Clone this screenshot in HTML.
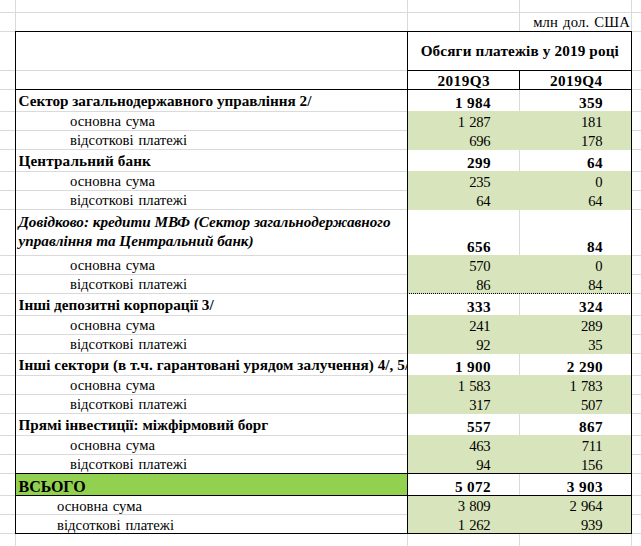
<!DOCTYPE html>
<html><head><meta charset="utf-8"><style>
html,body{margin:0;padding:0;background:#fff}
body{width:641px;height:546px;position:relative;overflow:hidden}
i{position:absolute;display:block}
div{position:absolute;white-space:nowrap;line-height:20px;height:20px;font-family:"Liberation Serif",serif;color:#000}
.n{font-size:14.67px;letter-spacing:0.05px;word-spacing:1px}
.nn{font-size:14.67px;letter-spacing:-0.3px;word-spacing:1.2px}
.nb{font-size:15.2px;font-weight:bold;letter-spacing:0.4px}
.b{font-size:15.2px;font-weight:bold}
</style></head><body>
<i style="left:0px;top:12px;width:641px;height:1px;background:#dadada"></i>
<i style="left:0px;top:31px;width:641px;height:1px;background:#dadada"></i>
<i style="left:0px;top:70px;width:641px;height:1px;background:#dadada"></i>
<i style="left:0px;top:89px;width:641px;height:1px;background:#dadada"></i>
<i style="left:0px;top:111px;width:641px;height:1px;background:#dadada"></i>
<i style="left:0px;top:130px;width:641px;height:1px;background:#dadada"></i>
<i style="left:0px;top:149px;width:641px;height:1px;background:#dadada"></i>
<i style="left:0px;top:171px;width:641px;height:1px;background:#dadada"></i>
<i style="left:0px;top:190px;width:641px;height:1px;background:#dadada"></i>
<i style="left:0px;top:209px;width:641px;height:1px;background:#dadada"></i>
<i style="left:0px;top:255px;width:641px;height:1px;background:#dadada"></i>
<i style="left:0px;top:274px;width:641px;height:1px;background:#dadada"></i>
<i style="left:0px;top:293px;width:641px;height:1px;background:#dadada"></i>
<i style="left:0px;top:315px;width:641px;height:1px;background:#dadada"></i>
<i style="left:0px;top:334px;width:641px;height:1px;background:#dadada"></i>
<i style="left:0px;top:353px;width:641px;height:1px;background:#dadada"></i>
<i style="left:0px;top:375px;width:641px;height:1px;background:#dadada"></i>
<i style="left:0px;top:394px;width:641px;height:1px;background:#dadada"></i>
<i style="left:0px;top:413px;width:641px;height:1px;background:#dadada"></i>
<i style="left:0px;top:435px;width:641px;height:1px;background:#dadada"></i>
<i style="left:0px;top:454px;width:641px;height:1px;background:#dadada"></i>
<i style="left:0px;top:473px;width:641px;height:1px;background:#dadada"></i>
<i style="left:0px;top:495px;width:641px;height:1px;background:#dadada"></i>
<i style="left:0px;top:514px;width:641px;height:1px;background:#dadada"></i>
<i style="left:0px;top:533px;width:641px;height:1px;background:#dadada"></i>
<i style="left:15px;top:0px;width:1px;height:546px;background:#dadada"></i>
<i style="left:407px;top:0px;width:1px;height:546px;background:#dadada"></i>
<i style="left:519px;top:0px;width:1px;height:546px;background:#dadada"></i>
<i style="left:631px;top:0px;width:1px;height:546px;background:#dadada"></i>
<i style="left:408px;top:111px;width:223px;height:39px;background:#d8e4bc"></i>
<i style="left:408px;top:171px;width:223px;height:39px;background:#d8e4bc"></i>
<i style="left:408px;top:255px;width:223px;height:39px;background:#d8e4bc"></i>
<i style="left:408px;top:315px;width:223px;height:39px;background:#d8e4bc"></i>
<i style="left:408px;top:375px;width:223px;height:39px;background:#d8e4bc"></i>
<i style="left:408px;top:435px;width:223px;height:39px;background:#d8e4bc"></i>
<i style="left:408px;top:495px;width:223px;height:39px;background:#d8e4bc"></i>
<i style="left:16px;top:474px;width:391px;height:21px;background:#92d050"></i>
<i style="left:408px;top:32px;width:223px;height:38px;background:#fff"></i>
<i style="left:15px;top:31px;width:617px;height:1px;background:#000"></i>
<i style="left:15px;top:31px;width:1px;height:503px;background:#000"></i>
<i style="left:631px;top:31px;width:1px;height:503px;background:#000"></i>
<i style="left:15px;top:533px;width:617px;height:1px;background:#000"></i>
<i style="left:407px;top:31px;width:1px;height:503px;background:#000"></i>
<i style="left:407px;top:70px;width:225px;height:1px;background:#000"></i>
<i style="left:519px;top:70px;width:1px;height:20px;background:#000"></i>
<i style="left:15px;top:89px;width:617px;height:1px;background:#000"></i>
<i style="left:15px;top:473px;width:617px;height:1px;background:#000"></i>
<i style="left:15px;top:495px;width:617px;height:1px;background:#000"></i>
<i style="left:409px;top:293px;width:222px;height:1px;background:repeating-linear-gradient(90deg,#000 0 1px,transparent 1px 2px)"></i>
<div class="n" style="left:330.00px;width:300px;text-align:right;top:12px;letter-spacing:0.2px">млн дол. США</div>
<div class="b" style="left:369.79999999999995px;width:300px;text-align:center;top:41px;letter-spacing:0.15px">Обсяги платежів у 2019 році</div>
<div class="b" style="left:313.8px;width:300px;text-align:center;top:71px;letter-spacing:0.5px">2019Q3</div>
<div class="b" style="left:426.29999999999995px;width:300px;text-align:center;top:71px;letter-spacing:0.5px">2019Q4</div>
<div class="b" style="left:18.5px;width:388.5px;overflow:hidden;top:91px;">Сектор загальнодержавного управління 2/</div>
<div class="nb" style="left:191.10px;width:300px;text-align:right;top:93px;">1 984</div>
<div class="nb" style="left:302.90px;width:300px;text-align:right;top:93px;">359</div>
<div class="n" style="left:70px;top:111px;">основна сума</div>
<div class="nn" style="left:190.40px;width:300px;text-align:right;top:112px;">1 287</div>
<div class="nn" style="left:302.20px;width:300px;text-align:right;top:112px;">181</div>
<div class="n" style="left:70px;top:130px;">відсоткові платежі</div>
<div class="nn" style="left:190.40px;width:300px;text-align:right;top:131px;">696</div>
<div class="nn" style="left:302.20px;width:300px;text-align:right;top:131px;">178</div>
<div class="b" style="left:18.5px;width:388.5px;overflow:hidden;top:151px;letter-spacing:0.13px">Центральний банк</div>
<div class="nb" style="left:191.10px;width:300px;text-align:right;top:153px;">299</div>
<div class="nb" style="left:302.90px;width:300px;text-align:right;top:153px;">64</div>
<div class="n" style="left:70px;top:171px;">основна сума</div>
<div class="nn" style="left:190.40px;width:300px;text-align:right;top:172px;">235</div>
<div class="nn" style="left:302.20px;width:300px;text-align:right;top:172px;">0</div>
<div class="n" style="left:70px;top:190px;">відсоткові платежі</div>
<div class="nn" style="left:190.40px;width:300px;text-align:right;top:191px;">64</div>
<div class="nn" style="left:302.20px;width:300px;text-align:right;top:191px;">64</div>
<div class="b" style="left:18.5px;width:388.5px;overflow:hidden;top:295px;">Інші депозитні корпорації 3/</div>
<div class="nb" style="left:191.10px;width:300px;text-align:right;top:297px;">333</div>
<div class="nb" style="left:302.90px;width:300px;text-align:right;top:297px;">324</div>
<div class="n" style="left:70px;top:315px;">основна сума</div>
<div class="nn" style="left:190.40px;width:300px;text-align:right;top:316px;">241</div>
<div class="nn" style="left:302.20px;width:300px;text-align:right;top:316px;">289</div>
<div class="n" style="left:70px;top:334px;">відсоткові платежі</div>
<div class="nn" style="left:190.40px;width:300px;text-align:right;top:335px;">92</div>
<div class="nn" style="left:302.20px;width:300px;text-align:right;top:335px;">35</div>
<div class="b" style="left:18.5px;width:388.5px;overflow:hidden;top:355px;letter-spacing:0.05px">Інші сектори (в т.ч. гарантовані урядом залучення) 4/, 5/</div>
<div class="nb" style="left:191.10px;width:300px;text-align:right;top:357px;">1 900</div>
<div class="nb" style="left:302.90px;width:300px;text-align:right;top:357px;">2 290</div>
<div class="n" style="left:70px;top:375px;">основна сума</div>
<div class="nn" style="left:190.40px;width:300px;text-align:right;top:376px;">1 583</div>
<div class="nn" style="left:302.20px;width:300px;text-align:right;top:376px;">1 783</div>
<div class="n" style="left:70px;top:394px;">відсоткові платежі</div>
<div class="nn" style="left:190.40px;width:300px;text-align:right;top:395px;">317</div>
<div class="nn" style="left:302.20px;width:300px;text-align:right;top:395px;">507</div>
<div class="b" style="left:18.5px;width:388.5px;overflow:hidden;top:415px;">Прямі інвестиції: міжфірмовий борг</div>
<div class="nb" style="left:191.10px;width:300px;text-align:right;top:417px;">557</div>
<div class="nb" style="left:302.90px;width:300px;text-align:right;top:417px;">867</div>
<div class="n" style="left:70px;top:435px;">основна сума</div>
<div class="nn" style="left:190.40px;width:300px;text-align:right;top:436px;">463</div>
<div class="nn" style="left:302.20px;width:300px;text-align:right;top:436px;">711</div>
<div class="n" style="left:70px;top:454px;">відсоткові платежі</div>
<div class="nn" style="left:190.40px;width:300px;text-align:right;top:455px;">94</div>
<div class="nn" style="left:302.20px;width:300px;text-align:right;top:455px;">156</div>
<div class="b" style="left:18.5px;top:212px;font-style:italic">Довідково: кредити МВФ (Сектор загальнодержавного</div>
<div class="b" style="left:18.5px;top:231px;font-style:italic">управління та Центральний банк)</div>
<div class="nb" style="left:191.10px;width:300px;text-align:right;top:237px;">656</div>
<div class="nb" style="left:302.90px;width:300px;text-align:right;top:237px;">84</div>
<div class="n" style="left:70px;top:255px;">основна сума</div>
<div class="nn" style="left:190.40px;width:300px;text-align:right;top:256px;">570</div>
<div class="nn" style="left:302.20px;width:300px;text-align:right;top:256px;">0</div>
<div class="n" style="left:70px;top:274px;">відсоткові платежі</div>
<div class="nn" style="left:190.40px;width:300px;text-align:right;top:275px;">86</div>
<div class="nn" style="left:302.20px;width:300px;text-align:right;top:275px;">84</div>
<div class="b" style="left:18.5px;top:477px;font-size:16px">ВСЬОГО</div>
<div class="nb" style="left:191.10px;width:300px;text-align:right;top:477px;">5 072</div>
<div class="nb" style="left:302.90px;width:300px;text-align:right;top:477px;">3 903</div>
<div class="n" style="left:57px;top:496px;">основна сума</div>
<div class="nn" style="left:190.40px;width:300px;text-align:right;top:496px;">3 809</div>
<div class="nn" style="left:302.20px;width:300px;text-align:right;top:496px;">2 964</div>
<div class="n" style="left:57px;top:515px;">відсоткові платежі</div>
<div class="nn" style="left:190.40px;width:300px;text-align:right;top:515px;">1 262</div>
<div class="nn" style="left:302.20px;width:300px;text-align:right;top:515px;">939</div>
</body></html>
